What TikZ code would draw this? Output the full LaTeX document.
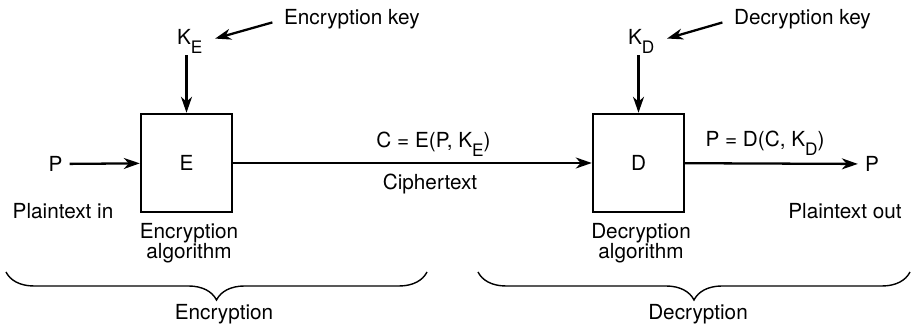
\documentclass[tikz,border=0pt]{standalone}
\usepackage{fontspec}
\setmainfont{TeX Gyre Heros}
\usepackage{tikz}
\usetikzlibrary{arrows.meta, positioning, decorations.pathreplacing}

\newcommand\lowsub[1]{\raisebox{-0.4em}{\fontsize{9.8}{10}\selectfont #1}}

\begin{document}
\begin{tikzpicture}[
    font=\fontsize{11.8}{11.4}\selectfont,
    every node/.style={inner sep=1pt},
    msg/.style={-{Stealth[length=3.2mm, width=2.2mm, inset=1mm]}, line width=1.3pt},
    algbox/.style={rectangle, draw, line width=1.4pt, minimum width=1.82cm, minimum height=1.96cm, inner sep=0pt},
    lbl/.style={align=center},
    brc/.style={decorate, decoration={brace, mirror, amplitude=0.56cm}, line width=0.8pt}
]
\useasboundingbox (0, 0) rectangle (18.24, 6.56);

% Boxes
\node[algbox] (boxE) at (3.73, 3.30) {E};
\node[algbox] (boxD) at (12.77, 3.30) {D};

% Inputs and outputs
\node[inner sep=0.138cm] (pIn) at (1.11, 3.28) {P};
\node[inner sep=0.138cm] (pOut) at (17.44, 3.28) {P};
\node[anchor=base west] (kE) at (3.50, 5.66) {K\lowsub{E}};
\node[anchor=base west] (kD) at (12.52, 5.66) {K\lowsub{D}};

% Labels
\node[anchor=base west] (encKey) at (5.64, 6.06) {Encryption key};
\node[anchor=base west] (decKey) at (14.64, 6.06) {Decryption key};
\node[anchor=base] (cipherEq) at (8.67, 3.60) {C = E(P, K\lowsub{E})};
\node[anchor=base] (cipher) at (8.60, 2.76) {Ciphertext};
\node[anchor=base] (plainEq) at (15.30, 3.62) {P = D(C, K\lowsub{D})};
\node[anchor=base] (plainIn) at (1.26, 2.18) {Plaintext in};
\node[anchor=base] (plainOut) at (16.90, 2.18) {Plaintext out};
\node[lbl, anchor=north] (encAlg) at (3.78, 2.14) {Encryption\\algorithm};
\node[lbl, anchor=north] (decAlg) at (12.82, 2.14) {Decryption\\algorithm};

% Arrows
\draw[msg] (pIn) -- (boxE);
\draw[msg] (kE.south -| boxE.north) -- (boxE.north);
\draw[msg, shorten <=0.2cm, shorten >=0.22cm] (encKey.west) -- (kE.east);
\draw[msg] (boxE) -- (boxD);
\draw[msg] (kD.south -| boxD.north) -- (boxD.north);
\draw[msg, shorten <=0.2cm, shorten >=0.22cm] (decKey.west) -- (kD.east);
\draw[msg] (boxD) -- (pOut);

% Braces
\coordinate (encL) at (0.12, 1.12);
\coordinate (encR) at (8.54, 1.12);
\coordinate (decL) at (9.56, 1.12);
\coordinate (decR) at (18.20, 1.12);
\draw[brc] (encL) -- (encR);
\draw[brc] (decL) -- (decR);
\node[anchor=base] (encPart) at (4.48, 0.16) {Encryption};
\node[anchor=base] (decPart) at (13.96, 0.16) {Decryption};

\end{tikzpicture}
\end{document}
